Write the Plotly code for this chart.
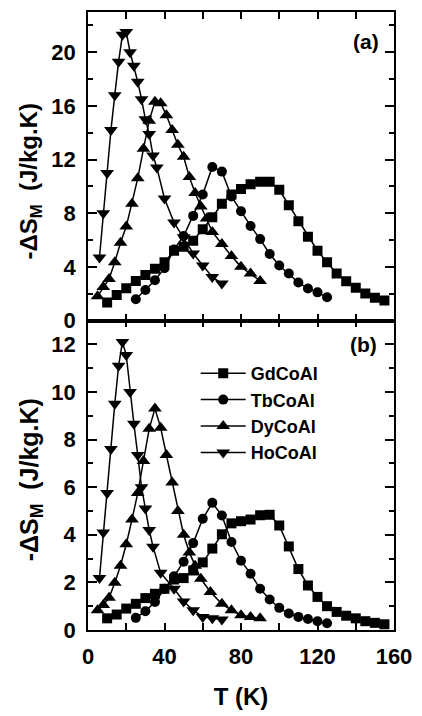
import plotly.graph_objects as go

# ---------------- data ----------------
T_gd = [10, 15, 20, 25, 30, 35, 40, 45, 50, 55, 60, 65, 70, 75, 80, 85, 90, 95, 100,
        105, 110, 115, 120, 125, 130, 135, 140, 145, 150, 155]
a_gd = [1.35, 1.9, 2.4, 2.95, 3.4, 3.85, 4.35, 5.2, 5.5, 5.95, 6.8, 7.7, 8.7, 9.4, 9.8,
        10.15, 10.35, 10.35, 9.75, 8.6, 7.4, 6.25, 5.2, 4.35, 3.5, 2.93, 2.44, 2.02, 1.7, 1.5]
b_gd = [0.49, 0.65, 0.9, 1.1, 1.34, 1.52, 1.73, 2.12, 2.18, 2.5, 2.84, 3.42, 4.02, 4.48,
        4.57, 4.64, 4.82, 4.84, 4.39, 3.51, 2.56, 1.87, 1.39, 1.0, 0.76, 0.6, 0.49, 0.37, 0.3, 0.24]

T_tb = [25, 30, 35, 40, 45, 50, 55, 60, 65, 70, 75, 80, 85, 90, 95, 100, 105, 110, 115, 120, 125]
a_tb = [1.58, 2.27, 3.0, 3.9, 5.3, 6.3, 7.8, 9.4, 11.45, 11.1, 9.25, 8.15, 7.05, 6.07,
        4.96, 4.1, 3.5, 2.83, 2.39, 2.1, 1.73]
b_tb = [0.51, 0.79, 1.18, 1.73, 2.26, 2.87, 3.65, 4.67, 5.34, 4.81, 3.7, 2.91, 2.36, 1.73,
        1.28, 0.93, 0.69, 0.55, 0.46, 0.37, 0.28]

T_dy_a = [5, 8, 11, 14, 17, 20, 23, 26, 29, 32, 35, 38, 41, 44, 47, 50, 53, 56, 59, 62,
          65, 70, 75, 80, 85, 90]
a_dy = [1.8, 2.5, 3.1, 4.35, 5.8, 7.0, 8.7, 10.6, 12.8, 14.9, 16.3, 16.2, 15.3, 14.2,
        13.1, 12.2, 10.7, 9.5, 8.5, 7.6, 6.6, 5.7, 4.8, 4.0, 3.5, 2.95]
T_dy_b = [5, 8, 11, 14, 17, 20, 23, 26, 29, 32, 35, 38, 41, 44, 47, 50, 53, 56, 59, 64,
          70, 75, 80, 85, 90]
b_dy = [0.83, 1.05, 1.35, 1.98, 2.7, 3.6, 4.64, 5.75, 7.1, 8.45, 9.3, 8.5, 7.35, 6.2,
        5.0, 4.0, 3.26, 2.7, 2.15, 1.6, 1.1, 0.83, 0.62, 0.55, 0.49]

T_ho_a = [6, 8, 10, 12, 14, 16, 18, 20, 22, 24, 26, 28, 30, 32, 34, 36, 40, 45, 50, 55, 60, 65, 70]
a_ho = [4.7, 8.0, 11.0, 14.2, 16.8, 19.3, 21.3, 21.5, 20.0, 19.0, 17.8, 16.5, 15.0, 13.9,
        12.3, 11.4, 9.1, 7.3, 6.2, 5.0, 4.1, 3.25, 2.75]
T_ho_b = [6, 8, 10, 12, 14, 16, 18, 20, 22, 24, 26, 28, 30, 32, 34, 38, 45, 50, 55, 60, 65, 70]
b_ho = [2.18, 4.1, 5.75, 7.6, 9.5, 11.1, 12.1, 11.55, 10.0, 8.66, 7.35, 6.0, 5.1, 4.2,
        3.5, 2.4, 1.73, 1.2, 0.83, 0.55, 0.49, 0.44]

names = ["GdCoAl", "TbCoAl", "DyCoAl", "HoCoAl"]
symbols = ["square", "circle", "triangle-up", "triangle-down"]
msizes = [10, 10, 12, 12]
y_title = "-ΔS<sub>M</sub>  (J/kg.K)"
x_title = "T (K)"
panel_labels = ["(a)", "(b)"]

series_a = [(T_gd, a_gd), (T_tb, a_tb), (T_dy_a, a_dy), (T_ho_a, a_ho)]
series_b = [(T_gd, b_gd), (T_tb, b_tb), (T_dy_b, b_dy), (T_ho_b, b_ho)]

FONT = "Liberation Sans, Arial, sans-serif"

fig = go.Figure()
for i, (x, y) in enumerate(series_a):
    fig.add_trace(go.Scatter(x=x, y=y, mode="lines+markers", name=names[i],
                             xaxis="x2", yaxis="y2", showlegend=False,
                             line=dict(color="black", width=1.5),
                             marker=dict(symbol=symbols[i], size=msizes[i], color="black")))
for i, (x, y) in enumerate(series_b):
    fig.add_trace(go.Scatter(x=x, y=y, mode="lines+markers", name=names[i],
                             xaxis="x", yaxis="y",
                             line=dict(color="black", width=1.5),
                             marker=dict(symbol=symbols[i], size=msizes[i], color="black")))

split = 313 / 625

common = dict(showline=True, linecolor="black", linewidth=1.5, mirror="ticks",
              ticks="inside", tickwidth=1.5, tickcolor="black", showgrid=False,
              zeroline=False, ticklabelstandoff=6,
              tickfont=dict(family=FONT, size=22, color="black", weight="bold"))


def bold(size):
    return dict(family=FONT, size=size, color="black", weight="bold")


fig.update_layout(
    width=422, height=716,
    margin=dict(l=88, r=20, t=10, b=81),
    paper_bgcolor="white", plot_bgcolor="white",
    font=dict(family=FONT, color="black", weight="bold"),
    xaxis=dict(domain=[0, 1], anchor="y", range=[0, 160], dtick=40, ticklen=7,
               minor=dict(dtick=20, ticks="inside", ticklen=7, tickwidth=1.5, tickcolor="black"),
               title=dict(text=x_title, font=bold(24), standoff=20),
               **common),
    yaxis=dict(domain=[0, split], anchor="x", range=[0, 13], dtick=2, ticklen=9,
               minor=dict(dtick=1, ticks="inside", ticklen=5, tickwidth=1.5, tickcolor="black"),
               **common),
    xaxis2=dict(domain=[0, 1], anchor="y2", range=[0, 160], dtick=40, ticklen=7,
                showticklabels=False,
                minor=dict(dtick=20, ticks="inside", ticklen=7, tickwidth=1.5, tickcolor="black"),
                **common),
    yaxis2=dict(domain=[split, 1], anchor="x2", range=[0, 23], dtick=4, ticklen=9,
                minor=dict(dtick=2, ticks="inside", ticklen=5, tickwidth=1.5, tickcolor="black"),
                **common),
    legend=dict(x=0.352, y=0.445, xanchor="left", yanchor="top", itemwidth=45,
                bgcolor="rgba(0,0,0,0)", borderwidth=0, tracegroupgap=0,
                font=bold(18)),
    annotations=[
        dict(text=y_title, x=(29 - 88) / 314, y=(635 - 181) / 625, xref="paper", yref="paper",
             xanchor="center", yanchor="middle",
             textangle=-90, showarrow=False, font=bold(24)),
        dict(text=y_title, x=(29 - 88) / 314, y=(635 - 483) / 625, xref="paper", yref="paper",
             xanchor="center", yanchor="middle",
             textangle=-90, showarrow=False, font=bold(25)),
        dict(text=panel_labels[0], x=0.908, y=(635 - 40) / 625, xref="paper", yref="paper",
             xanchor="center", yanchor="middle", showarrow=False, font=bold(21)),
        dict(text=panel_labels[1], x=0.901, y=(635 - 346) / 625, xref="paper", yref="paper",
             xanchor="center", yanchor="middle", showarrow=False, font=bold(21)),
    ],
)

fig.write_html("out.html", config={"displayModeBar": False},
               post_script="document.body.style.margin='0';")
